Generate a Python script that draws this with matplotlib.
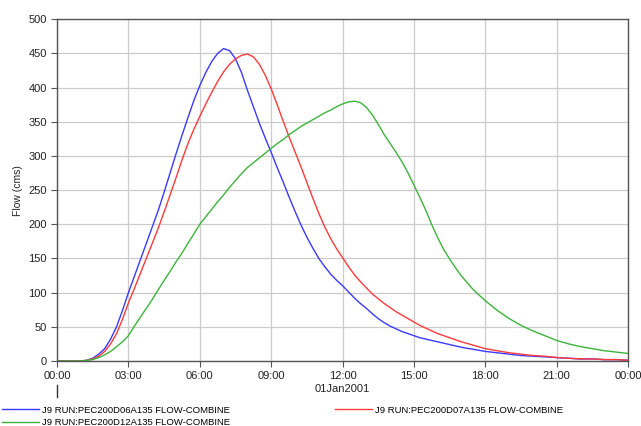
import numpy as np
import matplotlib
matplotlib.use("Agg")
import matplotlib.pyplot as plt
from matplotlib.lines import Line2D

plt.rcParams['font.family'] = ['Liberation Sans', 'DejaVu Sans']

# time in hours from 00:00 on 01Jan2001 (quarter hours through the peaks)
hours = ([0.0, 0.5] + [1 + 0.25 * i for i in range(65)]
         + [17.5 + 0.5 * i for i in range(14)])

flow_d06 = [0, 0,
            0, 1, 4, 10, 18, 32, 50, 74, 100, 124, 148, 172, 196, 220, 247, 275,
            303, 330, 356, 381, 403, 422, 438, 450, 457, 454, 442, 422, 396, 372,
            348, 326, 305, 283, 262, 240, 219, 199, 181, 165, 150, 138, 127, 118,
            110, 101, 92, 84, 77, 69, 62, 56, 51, 47, 43, 40, 37, 34, 32, 30,
            28, 26, 24, 22, 20,
            17, 14, 12, 10, 8, 7, 6, 5, 4, 3, 3, 2, 2, 1]
flow_d07 = [0, 0,
            0, 1, 3, 7, 14, 25, 40, 61, 85, 106, 128, 150, 172, 194, 218, 243,
            268, 294, 318, 339, 358, 376, 393, 409, 423, 434, 442, 447, 449, 445,
            434, 418, 398, 375, 351, 328, 306, 284, 261, 238, 216, 196, 179, 164,
            151, 138, 126, 116, 107, 98, 91, 84, 78, 72, 67, 62, 57, 52, 48, 44,
            40, 37, 34, 31, 28,
            23, 18, 15, 12, 10, 8, 7, 5, 4, 3, 3, 2, 2, 1]
flow_d12 = [0, 0,
            0, 1, 2, 5, 9, 14, 21, 28, 37, 51, 64, 77, 90, 104, 118, 131,
            145, 158, 172, 186, 200, 211, 222, 233, 243, 254, 264, 274, 283, 290,
            297, 304, 311, 318, 324, 331, 337, 343, 348, 353, 358, 363, 367, 372,
            376, 379, 380, 378, 371, 360, 346, 331, 318, 305, 291, 275, 257, 239, 220, 199,
            180, 163, 149, 136, 124,
            104, 88, 74, 62, 52, 44, 37, 30, 25, 21, 18, 15, 13, 11]

labels = ["J9 RUN:PEC200D06A135 FLOW-COMBINE",
          "J9 RUN:PEC200D07A135 FLOW-COMBINE",
          "J9 RUN:PEC200D12A135 FLOW-COMBINE"]
colors = ["#3a3aff", "#ff3a3a", "#3cb43c"]

xticks = [0, 3, 6, 9, 12, 15, 18, 21, 24]
xtick_labels = ["00:00", "03:00", "06:00", "09:00", "12:00", "15:00", "18:00", "21:00", "00:00"]
yticks = [0, 50, 100, 150, 200, 250, 300, 350, 400, 450, 500]

fig = plt.figure(figsize=(6.41, 4.26), dpi=100)
ax = fig.add_axes([0.089, 0.1526, 0.891, 0.8024])

lines = []
for series, lab, col in zip([flow_d06, flow_d07, flow_d12], labels, colors):
    ln, = ax.plot(hours, series, color=col, lw=1.0, label=lab)
    lines.append(ln)

ax.set_xlim(0, 24)
ax.set_ylim(0, 500)
ax.set_xticks(xticks)
ax.set_xticklabels(xtick_labels)
ax.set_yticks(yticks)
ax.grid(True, color="#cccccc", lw=0.9)
ax.set_axisbelow(True)
for s in ax.spines.values():
    s.set_color("#555555")
    s.set_linewidth(1.0)
ax.tick_params(axis="both", colors="#555555", labelcolor="#222222", labelsize=8,
               length=4, direction="out")
ax.set_ylabel("Flow (cms)", fontsize=7.5, color="#222222", labelpad=4)

# date label and day divider below the axis
ax.text(12, -0.083, "01Jan2001", transform=ax.get_xaxis_transform(),
        ha="center", va="center", fontsize=8, color="#222222")
ax.add_line(Line2D([0, 0], [-0.07, -0.105], transform=ax.get_xaxis_transform(),
                   color="#333333", lw=1.0, clip_on=False))

# legend: blue & red on first row, green on second row
fig.legend([lines[0], lines[2], lines[1]], [labels[0], labels[2], labels[1]],
           ncol=2, loc="upper left", bbox_to_anchor=(0.0, 0.052), frameon=False,
           fontsize=6.8, handlelength=3.9, handletextpad=0.3, columnspacing=11.2,
           labelspacing=0.35, borderpad=0.2, borderaxespad=0)

fig.savefig("out.png", dpi=100)
